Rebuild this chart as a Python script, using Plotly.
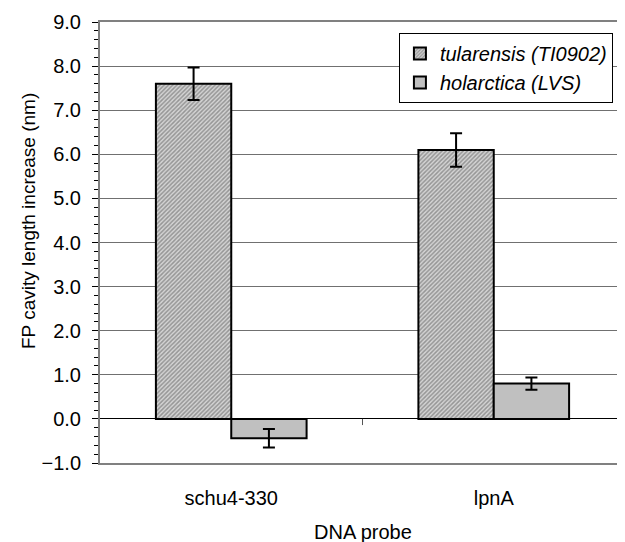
import plotly.graph_objects as go

categories = ["schu4-330", "lpnA"]
series_names = ["tularensis (TI0902)", "holarctica (LVS)"]
tularensis_vals = [7.6, 6.1]
tularensis_err = [0.37, 0.38]
holarctica_vals = [-0.44, 0.80]
holarctica_err = [0.21, 0.14]
y_ticks = [-1, 0, 1, 2, 3, 4, 5, 6, 7, 8, 9]

FONT = "Arial, Liberation Sans, sans-serif"
FS = 20

fig = go.Figure()
fig.add_trace(go.Bar(
    x=categories, y=tularensis_vals, name=series_names[0],
    error_y=dict(type="data", array=tularensis_err, color="black", thickness=2, width=6),
    marker=dict(color="#a0a0a0",
                pattern=dict(shape="/", fgcolor="#555555", bgcolor="#d4d4d4", size=3, solidity=0.5),
                line=dict(color="black", width=2)),
))
fig.add_trace(go.Bar(
    x=categories, y=holarctica_vals, name=series_names[1],
    error_y=dict(type="data", array=holarctica_err, color="black", thickness=2, width=6),
    marker=dict(color="#c0c0c0", line=dict(color="black", width=2)),
))

# category-axis tick mark between the groups, at y = 0
fig.add_shape(type="line", xref="x", yref="y", x0=0.5, x1=0.5, y0=0, y1=-0.14,
              line=dict(color="#555", width=1))

fig.add_annotation(text="FP cavity length increase (nm)", xref="paper", yref="paper",
                   x=-0.135, y=0.549, xanchor="center", yanchor="middle",
                   textangle=-90, showarrow=False,
                   font=dict(family=FONT, size=19, color="black"))
fig.add_annotation(text="DNA probe", xref="paper", yref="paper",
                   x=0.5, y=0, yanchor="middle", yshift=-69, showarrow=False,
                   font=dict(family=FONT, size=FS, color="black"))

fig.update_layout(
    width=617, height=534,
    margin=dict(l=92, r=0, t=14, b=79),
    paper_bgcolor="white", plot_bgcolor="white",
    barmode="group", bargap=0.426, bargroupgap=0,
    font=dict(family=FONT, size=FS, color="black"),
    showlegend=True,
    legend=dict(x=0.977, y=0.975, xanchor="right", yanchor="top",
                bordercolor="black", borderwidth=1, bgcolor="white",
                font=dict(family=FONT, size=FS, style="italic"),
                tracegroupgap=2, itemwidth=30),
    xaxis=dict(showline=True, linecolor="#808080", linewidth=2, mirror=True,
               ticks="", showgrid=False, ticklabelstandoff=16, range=[-0.5, 1.5]),
    yaxis=dict(range=[-1, 9], tickvals=y_ticks, tickformat=".1f",
               showgrid=True, gridcolor="#707070", gridwidth=1,
               zeroline=True, zerolinecolor="black", zerolinewidth=1,
               showline=True, linecolor="#808080", linewidth=2,
               ticks="outside", ticklen=6, tickcolor="black", tickwidth=1,
               minor=dict(dtick=0.2, ticks="outside", ticklen=4, tickcolor="black", showgrid=False),
               ticklabelstandoff=7),
)

fig.write_html("out.html")
